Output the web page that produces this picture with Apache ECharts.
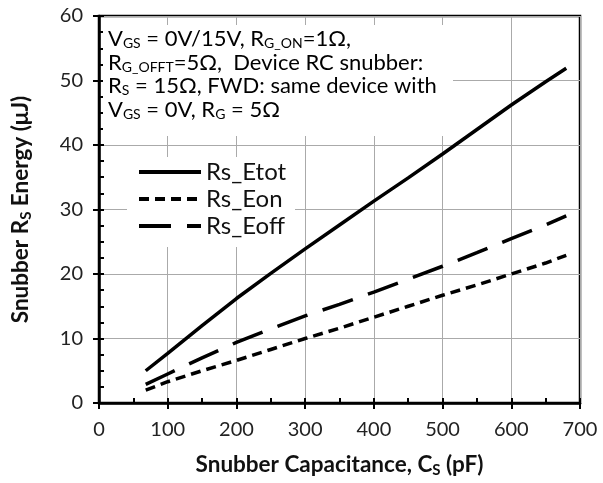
<!DOCTYPE html>
<html><head><meta charset="utf-8">
<script src="https://cdn.jsdelivr.net/npm/echarts@6/dist/echarts.min.js"></script>
<style>html,body{margin:0;padding:0;background:#fff}#c{width:603px;height:483px}</style>
</head><body><div id="c"></div>
<script>
const capacitance = [68, 100, 150, 200, 250, 300, 350, 400, 450, 500, 550, 600, 650, 680];
const etot = [5.0, 7.7, 12.0, 16.2, 20.1, 23.9, 27.6, 31.3, 34.9, 38.6, 42.4, 46.2, 49.8, 51.9];
const eon  = [2.0, 3.3, 5.0, 6.6, 8.3, 10.0, 11.6, 13.3, 15.0, 16.7, 18.3, 20.0, 21.7, 22.9];
const eoff = [2.9, 4.5, 7.0, 9.4, 11.5, 13.5, 15.3, 17.2, 19.2, 21.2, 23.3, 25.5, 27.6, 29.0];
const seriesNames = ['Rs_Etot', 'Rs_Eon', 'Rs_Eoff'];

const F = 'Lato, "Open Sans", sans-serif';
const chart = echarts.init(document.getElementById('c'));
const pair = a => capacitance.map((x, i) => [x, a[i]]);
const note = '{n|V}{s|GS}{n| = 0V/15V, R}{s|G_ON}{n|=1Ω,}\n' +
             '{n|R}{s|G_OFFT}{n|=5Ω,  Device RC snubber:}\n' +
             '{n|R}{s|S}{n| = 15Ω, FWD: same device with}\n' +
             '{n|V}{s|GS}{n| = 0V, R}{s|G}{n| = 5Ω}';
const nameRich = {
  b: {fontSize: 22.5, fontWeight: 'bold', fontFamily: F, color: '#111', lineHeight: 27},
  bs: {fontSize: 15, fontWeight: 'bold', fontFamily: F, color: '#111', verticalAlign: 'bottom'}
};
chart.setOption({
  animation: false,
  grid: {left: 99, right: 23, top: 16, bottom: 77, show: true, borderColor: '#000', borderWidth: 2.5, backgroundColor: 'transparent'},
  xAxis: [{
    type: 'value', min: 0, max: 700, interval: 100,
    name: '{b|Snubber Capacitance, C}{bs|S}{b| (pF)}', nameLocation: 'middle', nameGap: 48,
    nameTextStyle: {rich: nameRich},
    axisLine: {lineStyle: {color: '#000', width: 2.5}},
    axisTick: {length: 6, lineStyle: {color: '#000', width: 2}},
    axisLabel: {fontSize: 20, fontFamily: F, color: '#222', margin: 17},
    splitLine: {lineStyle: {color: '#aaa', width: 1}}
  }, {
    type: 'value', min: 0, max: 700, interval: 50, position: 'bottom',
    axisLine: {show: false}, axisLabel: {show: false}, splitLine: {show: false},
    axisTick: {inside: true, length: 5, lineStyle: {color: '#000', width: 2}}
  }],
  yAxis: [{
    type: 'value', min: 0, max: 60, interval: 10,
    name: '{b|Snubber R}{bs|S}{b| Energy (μJ)}', nameLocation: 'middle', nameGap: 65,
    nameTextStyle: {rich: nameRich},
    axisLine: {lineStyle: {color: '#000', width: 2.5}},
    axisTick: {length: 6, lineStyle: {color: '#000', width: 2}},
    axisLabel: {fontSize: 20, fontFamily: F, color: '#222', margin: 16},
    splitLine: {lineStyle: {color: '#aaa', width: 1}}
  }, {
    type: 'value', min: 0, max: 60, interval: 2.5, position: 'left',
    axisLine: {show: false}, axisLabel: {show: false}, splitLine: {show: false},
    axisTick: {inside: true, length: 5, lineStyle: {color: '#000', width: 2}}
  }],
  legend: {
    orient: 'vertical', left: 137, top: 160, itemWidth: 62, itemHeight: 14, itemGap: 3, padding: 0, z: 20,
    itemStyle: {opacity: 0},
    lineStyle: {width: 4},
    textStyle: {fontSize: 24, fontFamily: F, color: '#111'},
    data: seriesNames
  },
  graphic: [
    {type: 'rect', left: 103, top: 25, shape: {width: 350, height: 111}, style: {fill: '#fff'}, z: 5},
    {type: 'rect', left: 127, top: 157, shape: {width: 168, height: 90}, style: {fill: '#fff'}, z: 5},
    {type: 'text', left: 108, top: 28, z: 6, style: {text: note, rich: {
      n: {fontSize: 22, fontFamily: F, color: '#111', lineHeight: 23.5},
      s: {fontSize: 14, fontFamily: F, color: '#111', verticalAlign: 'bottom'}}}}
  ],
  series: [
    {name: seriesNames[0], type: 'line', data: pair(etot), symbol: 'none', lineStyle: {color: '#000', width: 3.5}, itemStyle: {color: '#000'}},
    {name: seriesNames[1], type: 'line', data: pair(eon), symbol: 'none', lineStyle: {color: '#000', width: 3.5, type: [10, 6]}, itemStyle: {color: '#000'}},
    {name: seriesNames[2], type: 'line', data: pair(eoff), symbol: 'none', lineStyle: {color: '#000', width: 3.5, type: [32, 16]}, itemStyle: {color: '#000'}}
  ]
});
</script></body></html>
